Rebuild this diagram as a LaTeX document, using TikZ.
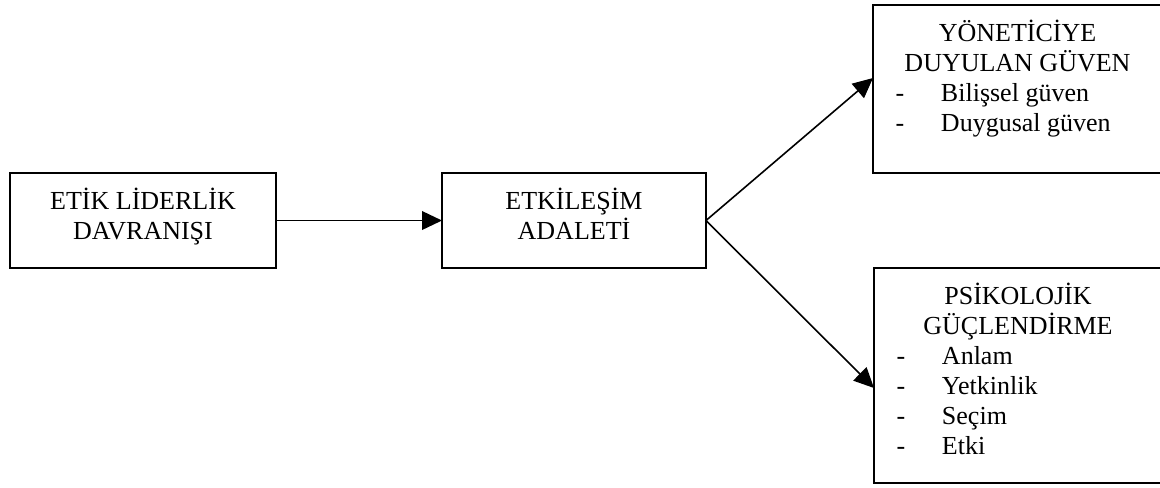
\documentclass[tikz,border=0pt]{standalone}
\usepackage{fontspec}
\setmainfont{Liberation Serif}
\usetikzlibrary{arrows.meta}
\newlength{\firstbaseline}
\newlength{\dashindent}
\newlength{\dashwidth}
\newlength{\boxlinewidth}
\setlength{\firstbaseline}{27pt}
\setlength{\dashindent}{17pt}
\setlength{\dashwidth}{34pt}
\setlength{\boxlinewidth}{1.3pt}
\definecolor{boxcolor}{RGB}{0,0,0}
\definecolor{arrowcolor}{RGB}{0,0,0}
\newcommand{\boxtext}[3]{\parbox[t][#2][t]{#1}{\fontsize{19.5pt}{22.5pt}\selectfont\centering\rule{0pt}{\firstbaseline}#3}}
\newcommand{\dashitem}[1]{\par\raggedright\hspace*{\dashindent}\makebox[\dashwidth][l]{-}#1}
\tikzstyle{textbox} = [draw, boxcolor, text=black, line width=\boxlinewidth, inner sep=0, outer sep=0, anchor=north west]
\tikzstyle{flow} = [-{Triangle[length=15pt, width=14pt]}, arrowcolor, line width=1.2pt]

\begin{document}
\begin{tikzpicture}[
		x=0.75pt, y=-0.75pt
		]
		\useasboundingbox (0,0) rectangle (1160,487);
		
		\node[textbox] (ethic) at (10,173) {\boxtext{199.5pt}{71.25pt}{ETİK LİDERLİK\\DAVRANIŞI}};
		\node[textbox] (justice) at (442,173) {\boxtext{198pt}{71.25pt}{ETKİLEŞİM\\ADALETİ}};
		\node[textbox] (trust) at (873,5) {\boxtext{216.75pt}{126pt}{YÖNETİCİYE\\DUYULAN GÜVEN
				\dashitem{Bilişsel güven}
				\dashitem{Duygusal güven}}};
		\node[textbox] (empower) at (874,268) {\boxtext{216pt}{161.25pt}{PSİKOLOJİK\\GÜÇLENDİRME
				\dashitem{Anlam}
				\dashitem{Yetkinlik}
				\dashitem{Seçim}
				\dashitem{Etki}}};
		
		% arrow ends on the left side of the right boxes
		\coordinate (trustin) at ([yshift=-54.75pt]trust.north west);
		\coordinate (empowerin) at ([yshift=-90pt]empower.north west);
		
		\draw[flow] (ethic.east) -- (justice.west);
		\draw[flow] (justice.east) -- (trustin);
		\draw[flow] (justice.east) -- (empowerin);
		
	\end{tikzpicture}
\end{document}
